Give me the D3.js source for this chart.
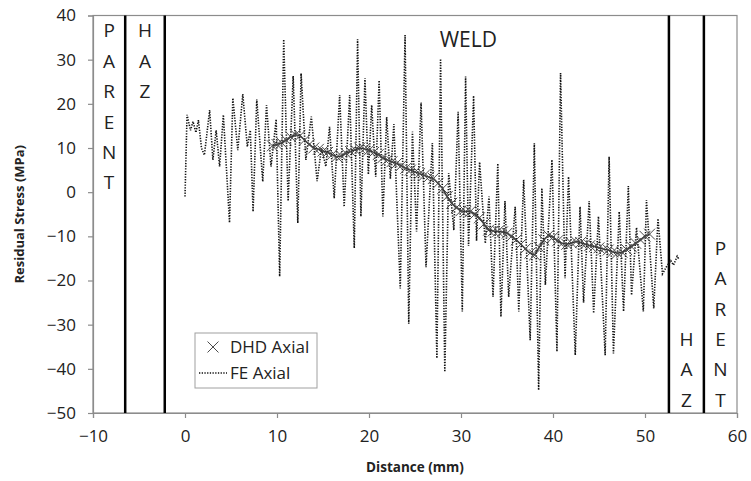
<!DOCTYPE html>
<html><head><meta charset="utf-8">
<script src="https://cdn.jsdelivr.net/npm/d3@7"></script>
<style>body{margin:0;background:#fff}svg{display:block}text{font-family:"Open Sans",sans-serif;fill:#222}</style>
</head><body><svg id="c" width="751" height="481"></svg>
<script>
// FE Axial (distance mm, stress MPa)
const feX = [0,0.22,0.6,0.87,1.19,1.46,1.79,2.11,2.68,3.03,3.39,3.76,4.17,4.84,5.2,5.74,6.28,6.77,7.1,7.4,7.8,8.45,8.86,9.35,9.91,10.29,10.73,11.21,11.76,12.26,12.62,13.14,13.73,14.36,14.84,15.31,15.71,16.22,16.81,17.3,17.9,18.4,18.76,19.12,19.56,19.93,20.29,20.73,21.1,21.51,21.92,22.32,22.7,23.4,23.92,24.32,24.72,25.17,25.66,26.2,26.89,27.38,27.78,28.24,28.66,29.22,29.69,30.14,30.5,30.82,31.37,31.69,32.02,32.64,33.04,33.48,34.0,34.34,34.78,35.18,35.89,36.28,36.81,37.52,37.97,38.44,38.79,39.17,39.89,40.43,40.82,41.31,41.69,42.42,42.94,43.32,43.93,44.42,44.94,45.67,46.1,46.57,47.2,47.67,48.19,48.54,49.08,49.82,50.16,50.95,51.41,51.9,52.3,52.8,53.1,53.5,53.7];
const feY = [-1,17.5,14,16,13.5,16.3,10,8.4,18.6,7.3,14,5.8,17.5,-6.9,21.3,9.5,22.2,10.3,14,-4.4,21,2.4,19.7,5.8,16.5,-19.1,34.6,-2,26.3,-7,26.9,7.3,17.1,2.5,10,5.8,14.8,-1.4,22,-3.3,22,-12.7,34.6,-5.5,25.8,4,19.7,3.5,25.3,-5.5,17,3,15.4,-21.8,35.6,-29.8,13.7,-8.9,20.3,-17,11.1,-37.6,30.2,-40.7,4.3,-8.6,18.2,-27,26.2,-12.2,21.8,-11,6.8,-11.6,-1,-23.7,6.5,-28.2,-2,-23.7,-3.3,-27,2.8,-33.5,11.1,-44.8,0.9,-21,7.3,-36.1,27,-19.5,3.5,-36.9,-3.3,-25,-2,-27.4,-5.5,-36.9,8,-36.5,-4.4,-27,1.4,-23.3,-8,-27,-1.8,-26.3,-6,-18.5,-17,-15.5,-16.5,-14.5,-15.2];
// DHD Axial
const dhdX = [9.5,10,10.5,11,11.5,12,12.5,13,13.5,14,14.5,15,15.5,16,16.5,17,17.5,18,18.5,19,19.5,20,20.5,21,21.5,22,22.5,23,23.5,24,24.5,25,25.5,26,26.5,27,27.5,28,28.5,29,29.5,30,30.5,31,31.5,32,32.5,33,33.5,34,34.5,35,35.5,36,36.5,37,37.5,38,38.5,39,39.5,40,40.5,41,41.5,42,42.5,43,43.5,44,44.5,45,45.5,46,46.5,47,47.5,48,48.5,49,49.5,50,50.5];
const dhdY = [10.5,10.8,11.2,11.8,12.5,13,12.8,11.8,10.8,10,9.7,9.3,9,8.5,8,8.2,8.8,9.2,9.6,10,9.8,9.5,9,8.5,7.8,7.3,6.9,6.5,6,5.4,5,4.6,4.2,3.8,3.4,3.1,2,0.8,-1,-2.5,-3.5,-4.2,-4.4,-4.4,-5,-5.8,-7.2,-8.6,-8.8,-8.9,-9,-9.3,-10,-10.8,-11.8,-12.8,-13.8,-14.2,-12.5,-10.8,-9.8,-10.2,-11,-11.6,-11.8,-11.5,-11.2,-11.4,-11.8,-12.1,-12.3,-12.6,-12.9,-13.1,-13.5,-13.8,-13.6,-13,-12.3,-11.6,-10.8,-10,-9.5];
const xTicks = [-10,0,10,20,30,40,50,60];
const yTicks = [-50,-40,-30,-20,-10,0,10,20,30,40];
const zoneLines = [-6.5,-2.2,52.6,56.4];
const zoneLabels = [
  {text:"PARENT", x:-8.25, top:40, down:true},
  {text:"HAZ", x:-4.35, top:40, down:true},
  {text:"HAZ", x:54.5, top:-50, down:false},
  {text:"PARENT", x:58.2, top:-50, down:false}
];

const svg = d3.select("#c");
const m = {l:93, r:14, t:15.5, b:68};
const W = 751, H = 481;
const x = d3.scaleLinear().domain([-10,60]).range([m.l, W-m.r]);
const y = d3.scaleLinear().domain([-50,40]).range([H-m.b, m.t]);
const axisCol = "#8c8c8c";

svg.append("rect").attr("x",x(-10)).attr("y",y(40)).attr("width",x(60)-x(-10)).attr("height",y(-50)-y(40))
  .attr("fill","none").attr("stroke",axisCol).attr("stroke-width",1.2);

const xa = svg.append("g").attr("transform",`translate(0,${y(-50)})`)
  .call(d3.axisBottom(x).tickValues(xTicks).tickSize(5).tickPadding(12));
const ya = svg.append("g").attr("transform",`translate(${x(-10)},0)`)
  .call(d3.axisLeft(y).tickValues(yTicks).tickSize(5).tickPadding(12));
[xa,ya].forEach(g=>{
  g.select(".domain").attr("stroke",axisCol).attr("stroke-width",1.2);
  g.selectAll(".tick line").attr("stroke",axisCol).attr("stroke-width",1.2);
  g.selectAll(".tick text").attr("font-size",17).attr("font-family","Open Sans").attr("fill","#222");
});

svg.selectAll(".zl").data(zoneLines).join("line")
  .attr("x1",d=>x(d)).attr("x2",d=>x(d)).attr("y1",y(40)).attr("y2",y(-50))
  .attr("stroke","#000").attr("stroke-width",2.5);

const step = 30.4;
zoneLabels.forEach(z=>{
  const chars = z.text.split("");
  chars.forEach((c,i)=>{
    let cy;
    if (z.down) cy = y(z.top) + 15 + i*step;
    else cy = y(z.top) - 13 - (chars.length-1-i)*step;
    svg.append("text").attr("x",x(z.x)).attr("y",cy).attr("dy","0.36em")
      .attr("text-anchor","middle").attr("font-size",19).text(c);
  });
});
svg.append("text").attr("x",x(30.8)).attr("y",y(34.6)).attr("dy","0.36em").attr("text-anchor","middle")
  .attr("font-size",21).text("WELD");

const fe = feX.map((d,i)=>[d,feY[i]]);
svg.append("path").datum(fe)
  .attr("d",d3.line().x(d=>x(d[0])).y(d=>y(d[1])))
  .attr("fill","none").attr("stroke","#111").attr("stroke-width",1.6)
  .attr("stroke-dasharray","1.3,1.4");

const dh = dhdX.map((d,i)=>[d,dhdY[i]]);
svg.append("path").datum(dh)
  .attr("d",d3.line().x(d=>x(d[0])).y(d=>y(d[1])))
  .attr("fill","none").attr("stroke","#333").attr("stroke-width",1.5);
const cross = d3.symbol().type(d3.symbolTimes).size(80);
svg.selectAll(".mk").data(dh).join("path")
  .attr("transform",d=>`translate(${x(d[0])},${y(d[1])})`)
  .attr("d",cross).attr("fill","none").attr("stroke","#4a4a4a").attr("stroke-width",1);

svg.append("text").attr("transform",`translate(24,${(y(40)+y(-50))/2}) rotate(-90)`)
  .attr("text-anchor","middle").attr("font-size",13).attr("font-weight","bold").text("Residual Stress (MPa)");
svg.append("text").attr("x",(x(-10)+x(60))/2).attr("y",472).attr("text-anchor","middle")
  .attr("font-size",13.5).attr("font-weight","bold").text("Distance (mm)");

const lg = svg.append("g");
lg.append("rect").attr("x",195).attr("y",333).attr("width",122).attr("height",55)
  .attr("fill","#fff").attr("stroke","#a0a0a0").attr("stroke-width",1);
lg.append("path").attr("transform","translate(213,347)").attr("d",cross)
  .attr("fill","none").attr("stroke","#4a4a4a").attr("stroke-width",1);
lg.append("text").attr("x",230).attr("y",347).attr("dy","0.36em").attr("font-size",17).text("DHD Axial");
lg.append("line").attr("x1",199).attr("x2",227).attr("y1",373).attr("y2",373)
  .attr("stroke","#111").attr("stroke-width",1.6).attr("stroke-dasharray","1.3,1.4");
lg.append("text").attr("x",230).attr("y",373).attr("dy","0.36em").attr("font-size",17).text("FE Axial");
</script></body></html>
